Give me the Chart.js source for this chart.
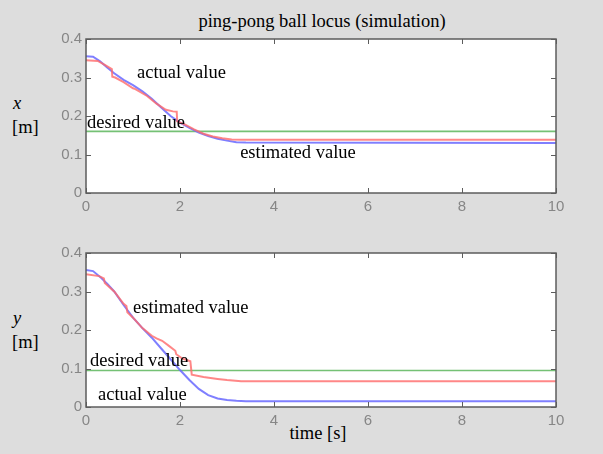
<!DOCTYPE html>
<html>
<head>
<meta charset="utf-8">
<script src="https://cdn.jsdelivr.net/npm/chart.js@4.4.1/dist/chart.umd.min.js"></script>
<style>
  html, body { margin: 0; padding: 0; }
  body { width: 603px; height: 454px; background: #dddddd; position: relative; overflow: hidden;
         font-family: "Liberation Serif", "Times New Roman", serif; color: #000; }
  canvas { position: absolute; left: 0; }
  .txt { position: absolute; font-size: 18.5px; line-height: 1; white-space: nowrap; transform: translateY(-50%); }
  .ctr { transform: translate(-50%, -50%); }
  .it { font-style: italic; }
</style>
</head>
<body>
<div class="txt ctr" style="left:322px; top:21px;">ping-pong ball locus (simulation)</div>
<div class="txt it" style="left:13px; top:103px;">x</div>
<div class="txt" style="left:12px; top:127px;">[m]</div>
<div class="txt it" style="left:13px; top:318px;">y</div>
<div class="txt" style="left:12px; top:342px;">[m]</div>
<div class="txt ctr" style="left:318px; top:433px;">time [s]</div>

<canvas id="topChart" width="603" height="226" style="top:0px;"></canvas>
<canvas id="bottomChart" width="603" height="228" style="top:226px;"></canvas>

<script>
// Axis ranges and tick steps
const timeRange = [0, 10];
const timeStep = 2;
const posRange = [0, 0.4];
const posStep = 0.1;

// Horizontal position x [m]
const xActualT = [0, 0.15, 0.3, 0.45, 0.6, 0.8, 1.0, 1.2, 1.4, 1.6, 1.8, 2.0, 2.2, 2.4, 2.6, 2.8, 3.0, 3.2, 3.4, 10];
const xActualV = [0.355, 0.354, 0.342, 0.326, 0.311, 0.294, 0.280, 0.264, 0.245, 0.222, 0.200, 0.183, 0.169, 0.157, 0.148, 0.141, 0.136, 0.132, 0.131, 0.130];
const xEstT = [0, 0.25, 0.4, 0.55, 0.56, 0.62, 0.8, 1.0, 1.05, 1.3, 1.5, 1.7, 1.85, 1.93, 1.94, 2.1, 2.3, 2.5, 2.7, 2.9, 3.1, 3.3, 10];
const xEstV = [0.345, 0.343, 0.333, 0.322, 0.302, 0.300, 0.288, 0.272, 0.270, 0.252, 0.232, 0.216, 0.212, 0.211, 0.186, 0.178, 0.165, 0.154, 0.147, 0.142, 0.139, 0.138, 0.138];
const xDesiredT = [0, 10];
const xDesiredV = [0.160, 0.160];

// Vertical position y [m]
const yActualT = [0, 0.15, 0.3, 0.45, 0.6, 0.8, 1.0, 1.2, 1.4, 1.6, 1.8, 2.0, 2.2, 2.4, 2.6, 2.8, 3.0, 3.2, 3.4, 10];
const yActualV = [0.356, 0.353, 0.338, 0.320, 0.300, 0.265, 0.232, 0.205, 0.180, 0.152, 0.124, 0.096, 0.070, 0.047, 0.031, 0.022, 0.018, 0.016, 0.015, 0.015];
const yEstT = [0, 0.28, 0.38, 0.40, 0.6, 0.8, 0.86, 0.88, 1.0, 1.2, 1.4, 1.5, 1.62, 1.75, 1.9, 1.92, 2.05, 2.22, 2.25, 2.5, 2.8, 3.0, 3.3, 10];
const yEstV = [0.345, 0.340, 0.334, 0.322, 0.300, 0.268, 0.262, 0.246, 0.232, 0.205, 0.185, 0.178, 0.172, 0.160, 0.146, 0.137, 0.126, 0.119, 0.084, 0.078, 0.073, 0.070, 0.067, 0.067];
const yDesiredT = [0, 10];
const yDesiredV = [0.095, 0.095];

// Curve labels placed in data coordinates: [text, time, value]
const xNotes = [["actual value", 1.085, 0.312], ["desired value", 0.02, 0.182], ["estimated value", 3.28, 0.104]];
const yNotes = [["estimated value", 1.0, 0.258], ["desired value", 0.085, 0.120], ["actual value", 0.255, 0.031]];

const pts = (ts, vs) => ts.map((t, i) => ({ x: t, y: vs[i] }));

// White axes box, MATLAB-style frame with inward ticks, and in-plot labels
const axesBox = {
  id: 'axesBox',
  beforeDraw(chart) {
    const a = chart.chartArea, c = chart.ctx;
    c.save();
    c.fillStyle = '#ffffff';
    c.fillRect(a.left, a.top, a.right - a.left, a.bottom - a.top);
    c.restore();
  },
  afterDatasetsDraw(chart, args, opts) {
    const a = chart.chartArea, c = chart.ctx;
    const xs = chart.scales.x, ys = chart.scales.y;
    const len = 5;
    c.save();
    c.strokeStyle = '#5c5c5c';
    c.lineWidth = 1.5;
    c.strokeRect(a.left, a.top, a.right - a.left, a.bottom - a.top);
    c.lineWidth = 1;
    c.beginPath();
    xs.ticks.forEach(tk => {
      const px = Math.round(xs.getPixelForValue(tk.value)) + 0.5;
      c.moveTo(px, a.bottom); c.lineTo(px, a.bottom - len);
      c.moveTo(px, a.top); c.lineTo(px, a.top + len);
    });
    ys.ticks.forEach(tk => {
      const py = Math.round(ys.getPixelForValue(tk.value)) + 0.5;
      c.moveTo(a.left, py); c.lineTo(a.left + len, py);
      c.moveTo(a.right, py); c.lineTo(a.right - len, py);
    });
    c.stroke();
    c.fillStyle = '#000000';
    c.font = '18.5px "Liberation Serif", "Times New Roman", serif';
    c.textAlign = 'left';
    c.textBaseline = 'middle';
    (opts.notes || []).forEach(([text, t, v]) => {
      c.fillText(text, xs.getPixelForValue(t), ys.getPixelForValue(v));
    });
    c.restore();
  }
};

function makeChart(id, actual, est, desired, notes, padTop, xAxisHeight) {
  return new Chart(document.getElementById(id), {
    type: 'line',
    data: {
      datasets: [
        { data: est, borderColor: 'rgba(255,105,105,0.8)', borderWidth: 2, pointRadius: 0, tension: 0, fill: false },
        { data: actual, borderColor: 'rgba(105,105,255,0.85)', borderWidth: 2, pointRadius: 0, tension: 0, fill: false },
        { data: desired, borderColor: 'rgba(110,190,110,0.95)', borderWidth: 1.6, pointRadius: 0, tension: 0, fill: false }
      ]
    },
    options: {
      responsive: false,
      animation: false,
      devicePixelRatio: 1,
      layout: { padding: { top: padTop, right: 47, left: 0, bottom: 0 } },
      plugins: { legend: { display: false }, tooltip: { enabled: false }, title: { display: false }, axesBox: { notes } },
      scales: {
        x: {
          type: 'linear', min: timeRange[0], max: timeRange[1],
          grid: { display: false, drawTicks: false }, border: { display: false },
          ticks: { stepSize: timeStep, padding: 5, color: '#868686', maxRotation: 0,
                   font: { family: '"Liberation Sans", Arial, sans-serif', size: 15 } },
          afterFit: s => { s.height = xAxisHeight; }
        },
        y: {
          type: 'linear', min: posRange[0], max: posRange[1],
          grid: { display: false, drawTicks: false }, border: { display: false },
          ticks: { stepSize: posStep, padding: 4, color: '#868686',
                   font: { family: '"Liberation Sans", Arial, sans-serif', size: 15 },
                   callback: v => String(+v.toFixed(1)) },
          afterFit: s => { s.width = 86; }
        }
      }
    },
    plugins: [axesBox]
  });
}

makeChart('topChart', pts(xActualT, xActualV), pts(xEstT, xEstV), pts(xDesiredT, xDesiredV), xNotes, 39, 33);
makeChart('bottomChart', pts(yActualT, yActualV), pts(yEstT, yEstV), pts(yDesiredT, yDesiredV), yNotes, 27, 47);
</script>
</body>
</html>
